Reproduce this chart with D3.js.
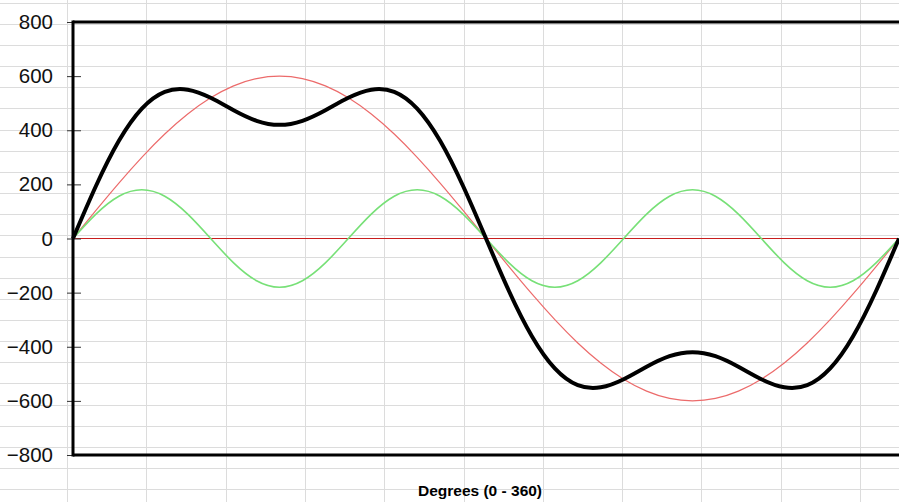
<!DOCTYPE html>
<html>
<head>
<meta charset="utf-8">
<script src="https://cdn.jsdelivr.net/npm/d3@7"></script>
<style>
  html, body { margin: 0; padding: 0; background: #fff; }
  svg { display: block; }
</style>
</head>
<body>
<div id="chart"></div>
<script>
const width = 899
const height = 502

// degrees, every 10
const degrees = [0,10,20,30,40,50,60,70,80,90,100,110,120,130,140,150,160,170,180,
  190,200,210,220,230,240,250,260,270,280,290,300,310,320,330,340,350,360]

// fundamental (red)
const fundamental = [0,104,205,300,386,460,520,564,591,600,591,564,520,460,386,300,205,104,0,
  -104,-205,-300,-386,-460,-520,-564,-591,-600,-591,-564,-520,-460,-386,-300,-205,-104,0]

// third harmonic (green)
const third = [0,90,156,180,156,90,0,-90,-156,-180,-156,-90,0,90,156,180,156,90,0,
  -90,-156,-180,-156,-90,0,90,156,180,156,90,0,-90,-156,-180,-156,-90,0]

// resultant (black)
const total = [0,194,361,480,542,550,520,474,435,420,435,474,520,550,542,480,361,194,0,
  -194,-361,-480,-542,-550,-520,-474,-435,-420,-435,-474,-520,-550,-542,-480,-361,-194,0]

const yTicks = [-800,-600,-400,-200,0,200,400,600,800]
const xLabel = "Degrees (0 - 360)"

const svg = d3.select("#chart")
  .append("svg")
  .attr("width", width)
  .attr("height", height)

// spreadsheet cells behind the chart
const cellGrid = svg.append("g").attr("stroke", "#dcdcdc").attr("stroke-width", 1)
for (let i = 0; i < 12; i++) {
  const gx = Math.round(67 + i * 79.3) + 0.5
  cellGrid.append("line").attr("x1", gx).attr("x2", gx).attr("y1", 0).attr("y2", height)
}
for (let i = 0; i < 24; i++) {
  const gy = Math.round(2.7 + i * 21.15) + 0.5
  cellGrid.append("line").attr("x1", 0).attr("x2", width).attr("y1", gy).attr("y2", gy)
}

const x = d3.scaleLinear().domain([0, 360]).range([73, 899])
const y = d3.scaleLinear().domain([-800, 800]).range([455, 22])

// zero line
svg.append("line")
  .attr("x1", x(0)).attr("x2", x(360))
  .attr("y1", y(0)).attr("y2", y(0))
  .attr("stroke", "#c81e1e")
  .attr("stroke-width", 1.2)

const line = (vals) => d3.line()
  .x((d, i) => x(degrees[i]))
  .y(d => y(d))
  .curve(d3.curveNatural)(vals)

svg.append("path").attr("d", line(fundamental))
  .attr("fill", "none").attr("stroke", "#ec6b6b").attr("stroke-width", 1.2)

svg.append("path").attr("d", line(third))
  .attr("fill", "none").attr("stroke", "#77e077").attr("stroke-width", 1.6)

svg.append("path").attr("d", line(total))
  .attr("fill", "none").attr("stroke", "#000").attr("stroke-width", 4)
  .attr("stroke-linejoin", "round")

// y axis with crossing ticks
const yAxis = svg.append("g")
  .attr("transform", `translate(${x(0)},0)`)
  .call(d3.axisLeft(y).tickValues(yTicks).tickSize(6).tickPadding(14).tickSizeOuter(0))

yAxis.select(".domain").remove()
yAxis.selectAll(".tick line")
  .attr("x1", -6).attr("x2", 8)
  .attr("stroke", "#333")
yAxis.selectAll("text")
  .attr("font-family", "Liberation Sans, Arial, sans-serif")
  .attr("font-size", "20.5px")
  .attr("fill", "#111")

// borders
svg.append("line")
  .attr("x1", x(0)).attr("x2", x(0)).attr("y1", y(800) - 1.5).attr("y2", y(-800) + 1.5)
  .attr("stroke", "#000").attr("stroke-width", 3)
svg.append("line")
  .attr("x1", x(0)).attr("x2", width).attr("y1", y(800)).attr("y2", y(800))
  .attr("stroke", "#000").attr("stroke-width", 3)
svg.append("line")
  .attr("x1", x(0)).attr("x2", width).attr("y1", y(-800)).attr("y2", y(-800))
  .attr("stroke", "#000").attr("stroke-width", 3)

svg.append("text")
  .attr("x", 480).attr("y", 496)
  .attr("text-anchor", "middle")
  .attr("font-family", "Liberation Sans, Arial, sans-serif")
  .attr("font-weight", "bold")
  .attr("font-size", "15.5px")
  .text(xLabel)
</script>
</body>
</html>
